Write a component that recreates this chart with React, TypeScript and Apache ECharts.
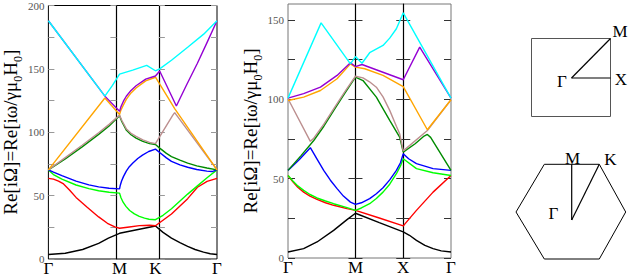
import React, { useEffect, useRef } from "react";
import * as echarts from "echarts";

// ---- axes / labels ----
const L_TICK_NAMES = ["Γ", "M", "K", "Γ"];
const L_TICK_POS = [0, 42.2, 63.5, 100];
const R_TICK_NAMES = ["Γ", "M", "X", "Γ"];
const R_TICK_POS = [0, 41.4, 70.7, 100];
const L_YMAX = 200;
const R_YMAX = 160;
const L_YTICKS = [0, 25, 50, 75, 100, 125, 150, 175, 200];
const L_YLABELS = [0, 50, 100, 150, 200];
const R_YTICKS = [0, 25, 50, 75, 100, 125, 150];
const R_YLABELS = [0, 50, 100, 150];
const BAND_COLORS = ["#000000", "#ff0000", "#00ff00", "#0000ff", "#008b00", "#bc8f8f", "#ffa500", "#9400d3", "#00ffff"];

// ---- left panel (hexagonal lattice: Γ-M-K-Γ) ----
const L_black = [[0, 3.5], [10, 4.5], [20.3, 7.5], [29.8, 12.3], [35.6, 16.5], [42.2, 20.3], [63.5, 26], [68, 21], [73, 16.5], [78, 13], [82.6, 10], [87, 7.5], [92, 5.4], [96, 4.1], [100, 3.5]];
const L_red = [[0, 63.6], [3, 63], [6, 61.5], [9, 59.2], [12.5, 54.5], [16.4, 48.6], [23, 40.8], [29.8, 33.2], [35, 28.2], [39.4, 25.3], [42.2, 24.3], [48, 25.3], [54, 26.3], [60, 26.6], [63.5, 26.2], [73, 35.5], [82.6, 47.6], [88.4, 56.6], [94.1, 61.3], [100, 63.6]];
const L_green = [[0, 70.3], [3, 66.6], [8, 63], [16.4, 58.4], [24, 55.5], [29.8, 53.8], [36, 52.7], [42.2, 52], [43, 48.5], [44.3, 44.8], [46, 41.5], [48.2, 38.3], [51, 35.6], [53.9, 33.7], [57, 32.2], [59.7, 31.4], [63.5, 31], [68, 34.5], [73, 39.6], [82.6, 51.2], [88.4, 57.7], [94.1, 64.1], [100, 70.3]];
const L_blue = [[0, 70.3], [3, 68.5], [8, 65.8], [16.4, 61.5], [24, 58.5], [29.8, 56.9], [36, 55.8], [42.2, 55.3], [42.6, 58], [43.4, 61.5], [44.5, 65], [46.2, 69.3], [48, 72.8], [50.1, 75.7], [53, 79.3], [55.8, 82], [59.5, 84.8], [63.5, 86.7], [66, 84], [70, 79.8], [73, 77], [78, 74.2], [82.6, 72.4], [88, 70.6], [94, 69.3], [97, 69], [100, 70.3]];
const L_dgreen = [[0, 70.3], [10, 79], [20, 88.5], [30, 98.5], [36, 105], [42.2, 113], [43.5, 108.5], [46.3, 101.5], [49, 98], [52, 95.4], [56, 92.8], [60, 91], [63.5, 90.3], [66, 87.5], [70, 83.3], [73, 80.8], [78, 78], [82.6, 75.7], [88, 73.5], [94, 71.8], [100, 70.3]];
const L_brown = [[0, 70.3], [10, 80], [20, 89.7], [30, 99.8], [36, 106.2], [42.2, 113.5], [43.5, 109.5], [46.3, 102.5], [49, 99.2], [52, 96.7], [56, 94], [60, 92], [63.5, 91], [73.8, 113.5], [74.9, 115.5], [76, 113.5], [100, 70.3]];
const L_orange = [[0, 70.3], [33.5, 127], [42.2, 114], [43, 117.5], [44.5, 121.5], [46.2, 125.9], [49, 131], [52, 134.9], [57.7, 140.5], [63.5, 143.4], [75, 118.5], [100, 70.3]];
const L_purple = [[0, 188], [33.5, 128.5], [42.2, 116.5], [43, 120], [44.5, 124.5], [46.2, 128.4], [49, 133], [52, 136.7], [57.7, 141.9], [63.5, 144.4], [66, 148.3], [75.9, 120.7], [82, 137.5], [88.3, 154.2], [94, 170.5], [100, 188]];
const L_cyan = [[0, 188], [33.5, 128.5], [38, 137], [42.2, 145.9], [50, 149], [58.3, 152.8], [63.5, 148.5], [66, 150], [73, 156.8], [82.6, 167], [92.1, 177.4], [100, 188]];

// ---- right panel (square lattice: Γ-M-X-Γ) ----
const R_black = [[0, 3.8], [9.6, 5.9], [17.8, 10.1], [28, 17.4], [36.2, 24.2], [41.4, 28.2], [56, 22.3], [70.7, 16.4], [74.5, 14.3], [78.8, 11.1], [84, 7.9], [89, 5.9], [94, 4.5], [100, 3.8]];
const R_red = [[0, 52], [3, 48], [6, 44.6], [9.6, 41.5], [13.5, 39], [17.8, 36.9], [23, 34.8], [28, 33.2], [36.2, 31.1], [41.4, 30], [56, 25.2], [70.7, 20.2], [72, 21.8], [78.8, 30], [89, 41.5], [100, 52]];
const R_green = [[0, 52], [3, 48.5], [6, 45.4], [9.6, 42.6], [13.5, 40], [17.8, 37.8], [23, 35.9], [28, 34.2], [36.2, 31.7], [41.4, 30], [45, 31.5], [50.1, 34.2], [54.2, 37.5], [58.3, 41.5], [62.4, 46.5], [66.5, 53.1], [69, 58], [70.7, 62.5], [78.8, 56.3], [89, 53.7], [100, 52]];
const R_blue = [[0, 55.2], [7, 62], [13.7, 69.5], [18, 62], [21.9, 55.2], [26, 49], [30.1, 43.7], [34, 39], [38.3, 35.2], [41.4, 33.8], [45, 34.8], [50.1, 37.4], [54.2, 40.5], [58.3, 44.3], [62.4, 49.2], [66.5, 55.2], [69, 60], [70.7, 65.7], [74, 62.5], [78.8, 59.4], [89, 56.3], [100, 55.2]];
const R_dgreen = [[0, 55.2], [8, 64.5], [15.8, 74], [22, 83], [28, 92.9], [35, 104], [41.4, 114], [46, 111.8], [54.2, 101.3], [62.4, 86.7], [68.5, 76.1], [70.7, 66.7], [78, 72], [83.5, 76.8], [85.5, 77.8], [87.5, 76], [100, 55.2]];
const R_brown = [[0, 100.3], [13.7, 73.5], [15.8, 75.5], [22, 84.3], [28, 94], [35, 105], [41.4, 114.5], [46, 113.5], [50, 111], [54.2, 107.6], [58.3, 101.5], [62.4, 93], [66.5, 83], [68.5, 78.3], [70.7, 67.5], [85.5, 80.3], [100, 99.7]];
const R_orange = [[0, 99.2], [9.6, 101.3], [19.9, 105.5], [30.1, 112.9], [38.3, 122.3], [41.4, 120.2], [47.1, 119.2], [58.3, 115], [70.7, 108], [85.5, 80.8], [100, 99.7]];
const R_purple = [[0, 100.7], [9.6, 103.5], [19.9, 107.6], [30.1, 115], [38.3, 123], [41.4, 120.6], [45.4, 121.9], [70.7, 112.3], [80.8, 132.8], [100, 100.7]];
const R_cyan = [[0, 100.7], [20.3, 148.1], [38.3, 122.3], [41.4, 126.9], [45.4, 122.7], [50.1, 129.3], [58.3, 133.9], [62.4, 138.5], [66.5, 144.4], [70.7, 154.4], [100, 100.7]];

const L_BANDS = [L_black, L_red, L_green, L_blue, L_dgreen, L_brown, L_orange, L_purple, L_cyan];
const R_BANDS = [R_black, R_red, R_green, R_blue, R_dgreen, R_brown, R_orange, R_purple, R_cyan];

const SERIF = "'Liberation Serif', 'DejaVu Serif', serif";
const TITLE = "{n|Re[iΩ]=Re[iω/γμ}{s|0}{n|H}{s|0}{n|]}";

// layout
const LG = { left: 43, top: 4, width: 174, height: 259 };
const RG = { left: 288, top: 4, width: 163, height: 254 };

function yAxisBase(grid: number, max: number, ticks: number[], tickColor: string, tickLen: number) {
  return {
    type: "value",
    gridIndex: grid,
    min: 0,
    max,
    splitLine: { show: false },
    axisLine: { show: false },
    axisTick: { show: true, inside: true, length: tickLen, customValues: ticks, lineStyle: { color: tickColor, width: 1 } },
    axisLabel: { show: false },
  };
}

function buildOption() {
  const nameStyle = {
    fontFamily: SERIF,
    fontSize: 19,
    color: "#000",
    rich: {
      n: { fontFamily: SERIF, fontSize: 19, color: "#000", padding: [0, 0, 4, 0], verticalAlign: "bottom" },
      s: { fontFamily: SERIF, fontSize: 12, color: "#000", verticalAlign: "bottom" },
    },
  };
  const labelStyle = (vals: number[]) => ({
    show: true,
    customValues: vals,
    fontFamily: SERIF,
    fontSize: 11,
    color: "#555",
    margin: 4,
  });

  const lM = LG.width * (L_TICK_POS[1] / 100);
  const lK = LG.width * (L_TICK_POS[2] / 100);
  const rM = RG.width * (R_TICK_POS[1] / 100);
  const rX = RG.width * (R_TICK_POS[2] / 100);

  const yAxes: any[] = [
    // left panel
    { ...yAxisBase(0, L_YMAX, L_YTICKS, "#999", 6), position: "left", axisLabel: labelStyle(L_YLABELS), name: TITLE, nameLocation: "middle", nameRotate: 90, nameGap: 24, nameTextStyle: nameStyle },
    { ...yAxisBase(0, L_YMAX, L_YTICKS, "#999", 6), position: "right" },
    { ...yAxisBase(0, L_YMAX, L_YTICKS, "#999", 6), position: "right", offset: -(LG.width - lM), axisLine: { show: true, lineStyle: { color: "#000", width: 1.2 } } },
    { ...yAxisBase(0, L_YMAX, L_YTICKS, "#999", 6), position: "left", offset: -lK, axisLine: { show: true, lineStyle: { color: "#000", width: 1.2 } } },
    // right panel
    { ...yAxisBase(1, R_YMAX, R_YTICKS, "#333", 7), position: "left", axisLabel: labelStyle(R_YLABELS), name: TITLE, nameLocation: "middle", nameRotate: 90, nameGap: 24, nameTextStyle: nameStyle },
    { ...yAxisBase(1, R_YMAX, R_YTICKS, "#333", 7), position: "right" },
    { ...yAxisBase(1, R_YMAX, R_YTICKS, "#333", 7), position: "left", offset: -rM, axisLine: { show: true, lineStyle: { color: "#000", width: 1.2 } } },
    { ...yAxisBase(1, R_YMAX, R_YTICKS, "#333", 7), position: "right", offset: -(RG.width - rM) },
    { ...yAxisBase(1, R_YMAX, R_YTICKS, "#333", 7), position: "left", offset: -rX, axisLine: { show: true, lineStyle: { color: "#000", width: 1.2 } } },
    { ...yAxisBase(1, R_YMAX, R_YTICKS, "#333", 7), position: "right", offset: -(RG.width - rX) },
  ];

  const xAxis = (grid: number, pos: number[], names: string[]) => ({
    type: "value",
    gridIndex: grid,
    min: 0,
    max: 100,
    splitLine: { show: false },
    axisLine: { show: false },
    axisTick: { show: false },
    axisLabel: {
      show: true,
      customValues: pos,
      formatter: (v: number) => {
        const i = pos.findIndex((p) => Math.abs(p - v) < 1e-6);
        return i >= 0 ? names[i] : "";
      },
      fontFamily: SERIF,
      fontSize: 17,
      color: "#000",
      margin: 1,
    },
  });

  const series: any[] = [];
  L_BANDS.forEach((d, i) => {
    series.push({ type: "line", xAxisIndex: 0, yAxisIndex: 0, data: d, symbol: "none", silent: true, lineStyle: { color: BAND_COLORS[i], width: 1.4 }, itemStyle: { color: BAND_COLORS[i] }, z: 3 + i });
  });
  R_BANDS.forEach((d, i) => {
    series.push({ type: "line", xAxisIndex: 1, yAxisIndex: 4, data: d, symbol: "none", silent: true, lineStyle: { color: BAND_COLORS[i], width: 1.4 }, itemStyle: { color: BAND_COLORS[i] }, z: 3 + i });
  });

  const textStyle = (t: string, x: number, y: number) => ({
    type: "text",
    x,
    y,
    style: { text: t, font: `17px ${SERIF}`, fill: "#000", align: "center", verticalAlign: "middle", textAlign: "center", textVerticalAlign: "middle" },
  });

  const graphic: any[] = [
    // square Brillouin zone
    { type: "rect", shape: { x: 531.5, y: 38.5, width: 79, height: 78 }, style: { fill: "none", stroke: "#555", lineWidth: 1 } },
    { type: "line", shape: { x1: 571.5, y1: 78, x2: 610.5, y2: 38.5 }, style: { stroke: "#000", lineWidth: 1.2 } },
    { type: "line", shape: { x1: 571.5, y1: 78, x2: 610.5, y2: 78 }, style: { stroke: "#000", lineWidth: 1.2 } },
    textStyle("M", 620, 31),
    textStyle("X", 621, 79),
    textStyle("Γ", 562, 81),
    // hexagonal Brillouin zone
    { type: "polygon", shape: { points: [[544.3, 164.3], [599.3, 164.3], [625.7, 212], [599.3, 259], [544.3, 259], [516, 212]] }, style: { fill: "none", stroke: "#000", lineWidth: 1 } },
    { type: "line", shape: { x1: 571.7, y1: 164.3, x2: 571.7, y2: 220 }, style: { stroke: "#000", lineWidth: 1.2 } },
    { type: "line", shape: { x1: 571.7, y1: 220, x2: 599.3, y2: 164.3 }, style: { stroke: "#000", lineWidth: 1.2 } },
    textStyle("M", 572.5, 158),
    textStyle("K", 610.5, 159),
    textStyle("Γ", 553.5, 213),
  ];

  return {
    animation: false,
    backgroundColor: "#fff",
    textStyle: { fontFamily: SERIF },
    grid: [
      { ...LG, show: true, borderColor: "#000", borderWidth: 1, backgroundColor: "transparent", containLabel: false },
      { ...RG, show: true, borderColor: "#777", borderWidth: 1, backgroundColor: "transparent", containLabel: false },
    ],
    xAxis: [xAxis(0, L_TICK_POS, L_TICK_NAMES), xAxis(1, R_TICK_POS, R_TICK_NAMES)],
    yAxis: yAxes,
    series,
    graphic,
  };
}

export default function App() {
  const ref = useRef<HTMLDivElement>(null);
  useEffect(() => {
    document.body.style.margin = "0";
    if (!ref.current) return;
    const chart = echarts.init(ref.current, undefined, { renderer: "svg" });
    chart.setOption(buildOption() as any);
    return () => chart.dispose();
  }, []);
  return <div ref={ref} style={{ width: 633, height: 277 }} />;
}
